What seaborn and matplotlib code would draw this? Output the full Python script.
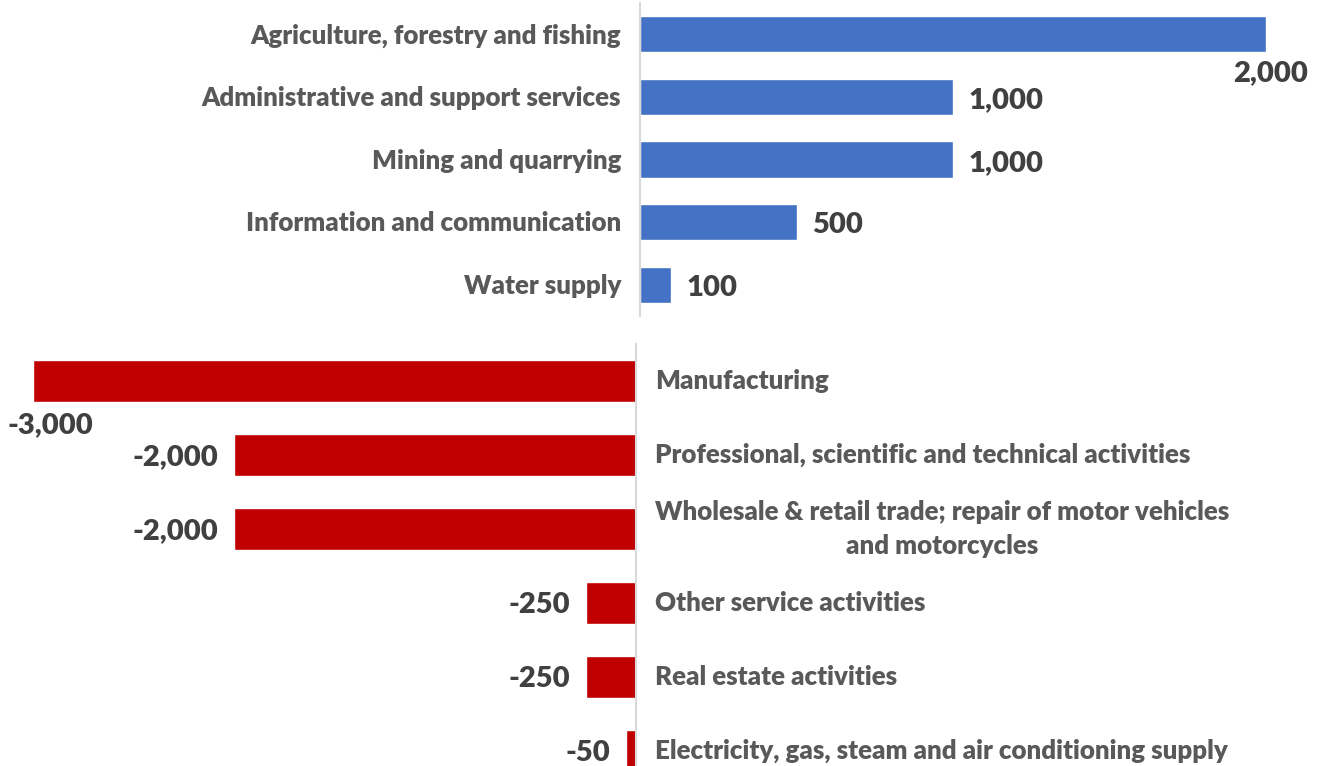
import pandas as pd
import matplotlib.pyplot as plt
import seaborn as sns

gain_sectors = ["Agriculture, forestry and fishing", "Administrative and support services",
                "Mining and quarrying", "Information and communication", "Water supply"]
gain_values = [2000, 1000, 1000, 500, 100]

loss_sectors = ["Manufacturing", "Professional, scientific and technical activities",
                "Wholesale & retail trade; repair of motor vehicles\nand motorcycles",
                "Other service activities", "Real estate activities",
                "Electricity, gas, steam and air conditioning supply"]
loss_values = [-3000, -2000, -2000, -250, -250, -50]

sns.set_style("white")
plt.rcParams['font.family'] = ['Lato', 'DejaVu Sans']

W, H = 1323, 766
fig = plt.figure(figsize=(W / 100, H / 100), dpi=100)

cat_color = "#595959"
val_color = "#404040"
axis_color = "#d9d9d9"
cat_size = 18.6
val_size = 21

# top panel: gains
ax1 = fig.add_axes([640 / W, 1 - 316 / H, (1266 - 640) / W, 313 / H])
top = pd.DataFrame({"sector": gain_sectors, "value": gain_values})
sns.barplot(data=top, x="value", y="sector", color="#4472c4", width=0.58,
            saturation=1, ax=ax1)
ax1.set_xlim(0, 2000)
ax1.set_ylim(4.5, -0.5)
for i, (s, v) in enumerate(zip(gain_sectors, gain_values)):
    ax1.text(-60, i + 0.02, s, ha="right", va="center", fontsize=cat_size,
             fontweight="heavy", color=cat_color)
    if v == max(gain_values):
        ax1.text(v + 135, i + 0.62, f"{v:,}", ha="right", va="center", fontsize=val_size,
                 fontweight="heavy", color=val_color, clip_on=False)
    else:
        ax1.text(v + 50, i + 0.05, f"{v:,}", ha="left", va="center", fontsize=val_size,
                 fontweight="heavy", color=val_color)

# bottom panel: losses
ax2 = fig.add_axes([33 / W, 1 - 788 / H, (636 - 33) / W, 444 / H])
bot = pd.DataFrame({"sector": loss_sectors, "value": loss_values})
sns.barplot(data=bot, x="value", y="sector", color="#c00000", width=0.57,
            saturation=1, ax=ax2)
ax2.set_xlim(-3000, 0)
ax2.set_ylim(5.5, -0.5)
for i, (s, v) in enumerate(zip(loss_sectors, loss_values)):
    ax2.text(95, i, s, ha="left", va="center", fontsize=cat_size, fontweight="heavy",
             color=cat_color, multialignment="center", linespacing=1.45, clip_on=False)
    if v == min(loss_values):
        ax2.text(v - 125, i + 0.6, f"{v:,}", ha="left", va="center", fontsize=val_size,
                 fontweight="heavy", color=val_color, clip_on=False)
    else:
        ax2.text(v - 80, i + 0.03, f"{v:,}", ha="right", va="center", fontsize=val_size,
                 fontweight="heavy", color=val_color, clip_on=False)

for ax, side in [(ax1, "left"), (ax2, "right")]:
    for sp in ax.spines.values():
        sp.set_visible(False)
    ax.spines[side].set_visible(True)
    ax.spines[side].set_color(axis_color)
    ax.spines[side].set_linewidth(1.5)
    ax.set_xticks([])
    ax.set_yticks([])
    ax.set_xlabel("")
    ax.set_ylabel("")
    ax.patch.set_alpha(0)

fig.savefig("out.png", dpi=100)
